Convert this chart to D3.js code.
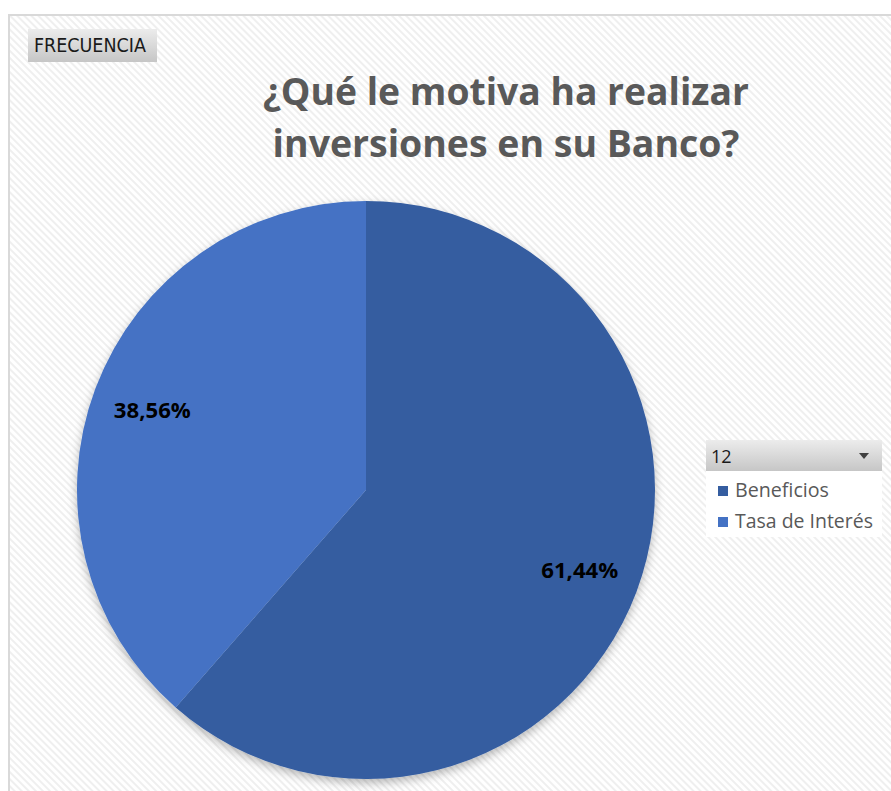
<!DOCTYPE html>
<html><head><meta charset="utf-8">
<script src="https://cdn.jsdelivr.net/npm/d3@7"></script>
<style>html,body{margin:0;padding:0;background:#fff;}svg{display:block;}</style>
</head><body>
<script>
const categories = ["Beneficios", "Tasa de Interés"];
const values = [61.44, 38.56];
const labels = ["61,44%", "38,56%"];
const colors = ["#355da0", "#4472c4"];
const titleLines = ["¿Qué le motiva ha realizar", "inversiones en su Banco?"];
const filterLabel = "FRECUENCIA";
const pageField = "12";

const W = 891, H = 791;
const svg = d3.select("body").append("svg").attr("width", W).attr("height", H);
const defs = svg.append("defs");

function fitText(sel, base, target) {
  sel.attr("font-size", base);
  const w = sel.node().getComputedTextLength();
  sel.attr("font-size", base * target / w);
  return sel;
}

const pat = defs.append("pattern").attr("id", "stripes").attr("patternUnits", "userSpaceOnUse")
  .attr("width", 5).attr("height", 5).attr("patternTransform", "rotate(-45)");
pat.append("rect").attr("width", 5).attr("height", 5).attr("fill", "#ffffff");
pat.append("rect").attr("width", 2).attr("height", 5).attr("fill", "#efefef");

const btnGrad = defs.append("linearGradient").attr("id", "btn").attr("x1", 0).attr("y1", 0).attr("x2", 0).attr("y2", 1);
btnGrad.append("stop").attr("offset", "0%").attr("stop-color", "#ececec");
btnGrad.append("stop").attr("offset", "100%").attr("stop-color", "#c6c6c6");

const sh = defs.append("filter").attr("id", "shadow").attr("x", "-20%").attr("y", "-20%").attr("width", "140%").attr("height", "140%");
sh.append("feDropShadow").attr("dx", 0).attr("dy", 4).attr("stdDeviation", 5).attr("flood-color", "#000").attr("flood-opacity", 0.28);

// chart area
svg.append("rect").attr("x", 9).attr("y", 15).attr("width", W).attr("height", H)
  .attr("fill", "url(#stripes)").attr("stroke", "#d9d9d9").attr("stroke-width", 2);

// filter button
svg.append("rect").attr("x", 28).attr("y", 29).attr("width", 129).attr("height", 33).attr("fill", "url(#btn)");
fitText(svg.append("text").attr("x", 34).attr("y", 52).attr("font-family", "'DejaVu Sans Condensed', 'Liberation Sans', sans-serif")
  .attr("fill", "#1a1a1a").text(filterLabel), 16, 112);

// title
const titleTargets = [486, 467];
const baselines = [105, 157];
titleLines.forEach((t, i) => {
  fitText(svg.append("text").attr("x", 506).attr("y", baselines[i]).attr("text-anchor", "middle")
    .attr("font-family", "'Open Sans', 'Liberation Sans', sans-serif").attr("font-weight", "bold")
    .attr("fill", "#595959").text(t), 36, titleTargets[i]);
});

// pie
const cx = 366, cy = 490, r = 289;
const pie = d3.pie().sort(null).value(d => d)(values);
const arc = d3.arc().innerRadius(0).outerRadius(r);
const g = svg.append("g").attr("transform", `translate(${cx},${cy})`);
const slices = g.append("g").attr("filter", "url(#shadow)");
slices.selectAll("path").data(pie).join("path").attr("d", arc).attr("fill", (d, i) => colors[i]);

const labelArc = d3.arc().innerRadius(r * 0.79).outerRadius(r * 0.79);
g.selectAll("text.lbl").data(pie).join("text").attr("class", "lbl")
  .attr("transform", d => `translate(${labelArc.centroid(d)})`)
  .attr("text-anchor", "middle").attr("dy", "0.36em")
  .attr("font-family", "'Open Sans', 'Liberation Sans', sans-serif").attr("font-weight", "bold")
  .attr("fill", "#000")
  .text((d, i) => labels[i])
  .each(function() { fitText(d3.select(this), 20, 77); });

// legend
const lg = svg.append("g");
lg.append("rect").attr("x", 706).attr("y", 440).attr("width", 176).attr("height", 97).attr("fill", "#ffffff");
lg.append("rect").attr("x", 706).attr("y", 440).attr("width", 176).attr("height", 31).attr("fill", "url(#btn)");
lg.append("text").attr("x", 711).attr("y", 463).attr("font-family", "'Open Sans', 'Liberation Sans', sans-serif")
  .attr("font-size", 18).attr("fill", "#1a1a1a").text(pageField);
lg.append("path").attr("d", "M859,453 L869,453 L864,459 Z").attr("fill", "#404040");
const legendTargets = [94, 138];
categories.forEach((c, i) => {
  const y = 490 + i * 31;
  lg.append("rect").attr("x", 718).attr("y", y - 4).attr("width", 10).attr("height", 10).attr("fill", colors[i]);
  fitText(lg.append("text").attr("x", 735).attr("y", y + 7).attr("font-family", "'Open Sans', 'Liberation Sans', sans-serif")
    .attr("fill", "#595959").text(c), 17, legendTargets[i]);
});
</script>
</body></html>
